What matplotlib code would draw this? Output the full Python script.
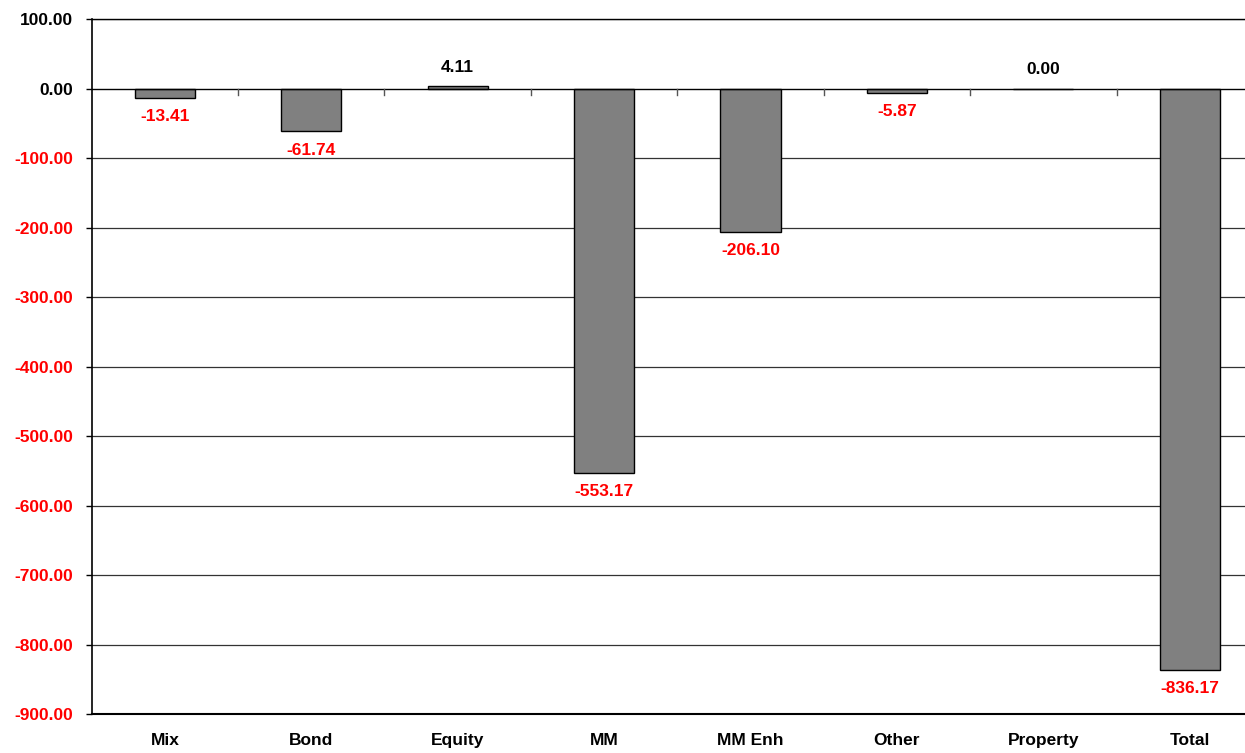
import matplotlib
matplotlib.use("Agg")
import matplotlib.pyplot as plt
import numpy as np

categories = ["Mix", "Bond", "Equity", "MM", "MM Enh", "Other", "Property", "Total"]
values = [-13.41, -61.74, 4.11, -553.17, -206.10, -5.87, 0.00, -836.17]
yticks = [100, 0, -100, -200, -300, -400, -500, -600, -700, -800, -900]

plt.rcParams['font.family'] = ['Liberation Sans', 'DejaVu Sans']
fig = plt.figure(figsize=(12.45, 7.53), dpi=100)
W, H = 1245, 753
left, right = 91.6, 1263
top, bottom = 19, 714
ax = fig.add_axes([left / W, 1 - bottom / H, (right - left) / W, (bottom - top) / H])

FS = 12.5
x = np.arange(len(categories))
ax.bar(x, values, width=0.41, color="#808080", edgecolor="black", linewidth=1.0, zorder=3)
ax.set_xlim(-0.5, len(categories) - 0.5)
ax.set_ylim(-900, 100)

for yv in yticks:
    if yv in (0, -900):
        continue
    ax.axhline(yv, color="#333333", linewidth=0.9, zorder=1)
ax.axhline(0, color="black", linewidth=1.0, zorder=4)

ax.set_yticks(yticks)
ax.set_yticklabels([f"{v:.2f}" for v in yticks], fontsize=FS, fontweight="bold")
for lab, v in zip(ax.get_yticklabels(), yticks):
    lab.set_color("red" if v < 0 else "black")
ax.tick_params(axis="y", direction="out", length=4, width=1, pad=9.5)

ax.set_xticks(x)
ax.set_xticklabels(categories, fontsize=FS, fontweight="bold")
ax.tick_params(axis="x", length=0, pad=14)
# ticks at category boundaries on the zero line
for b in np.arange(0.5, len(categories) - 0.5, 1):
    ax.plot([b, b], [0, -9], color="#555555", linewidth=1, zorder=4, clip_on=False)

ax.spines["right"].set_visible(False)
ax.spines["top"].set_color("black")
ax.spines["left"].set_linewidth(1.2)
ax.spines["bottom"].set_linewidth(1.5)
ax.spines["top"].set_linewidth(1.0)

for xi, v in zip(x, values):
    if v < 0:
        ax.annotate(f"{v:.2f}", (xi, v), xytext=(0, -8), textcoords="offset points",
                    ha="center", va="top", color="red", fontsize=FS, fontweight="bold")
    else:
        ax.annotate(f"{v:.2f}", (xi, v), xytext=(0, 8), textcoords="offset points",
                    ha="center", va="bottom", color="black", fontsize=FS, fontweight="bold")

fig.savefig("out.png", dpi=100)
